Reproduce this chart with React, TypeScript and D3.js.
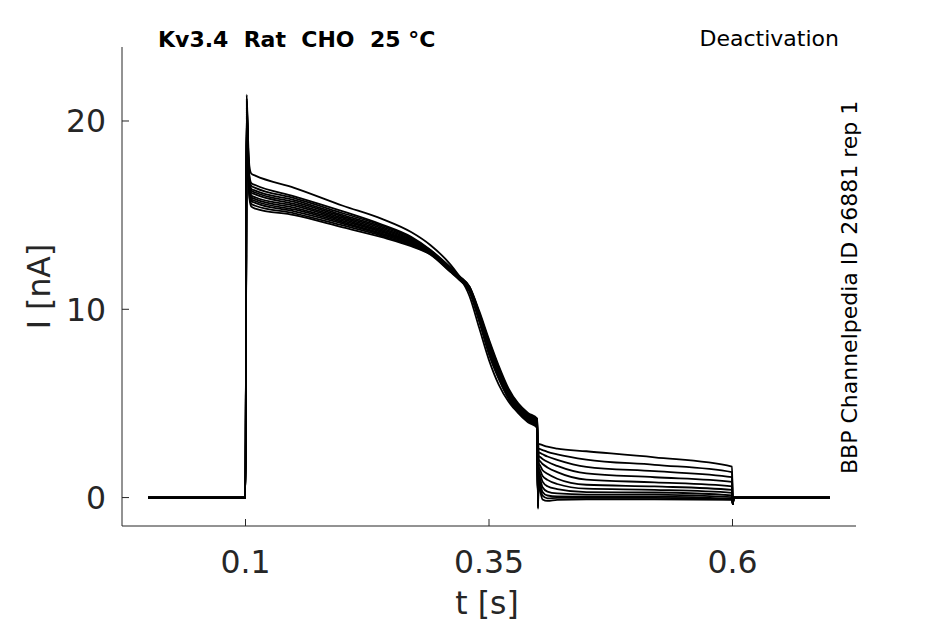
import React from "react";
import * as d3 from "d3";

// ---- data ----
const PRE_T = [0];
const PRE_I = [0];

const ACT_T = [0.1, 0.1012, 0.1025, 0.104, 0.106, 0.11, 0.15, 0.2, 0.24, 0.27, 0.29, 0.31, 0.32, 0.33, 0.34, 0.35, 0.36, 0.37, 0.38, 0.39, 0.3995];

const ACT_0 = [0, 21.4, 19.2, 17.6, 17.2, 17.1, 16.45, 15.5, 14.8, 14.1, 13.4, 12.4, 11.7, 10.7, 9.0, 7.3, 6.0, 5.1, 4.5, 4.1, 3.8];
const ACT_1 = [0, 21.2, 18.9, 17.1, 16.7, 16.6, 16.0, 15.2, 14.5, 13.85, 13.15, 12.25, 11.75, 11.2, 9.9, 8.4, 7.0, 5.8, 5.0, 4.5, 4.2];
const ACT_2 = [0, 21.1, 18.7, 16.95, 16.55, 16.45, 15.9, 15.1, 14.45, 13.8, 13.12, 12.22, 11.72, 11.2, 9.8, 8.3, 6.9, 5.7, 4.95, 4.45, 4.15];
const ACT_3 = [0, 21.0, 18.6, 16.85, 16.4, 16.3, 15.8, 15.0, 14.38, 13.75, 13.1, 12.2, 11.7, 11.15, 9.8, 8.2, 6.85, 5.65, 4.9, 4.4, 4.1];
const ACT_4 = [0, 20.9, 18.5, 16.75, 16.3, 16.2, 15.7, 14.92, 14.3, 13.7, 13.07, 12.17, 11.68, 11.1, 9.7, 8.1, 6.75, 5.6, 4.85, 4.35, 4.05];
const ACT_5 = [0, 20.8, 18.4, 16.65, 16.2, 16.1, 15.6, 14.85, 14.23, 13.65, 13.05, 12.15, 11.66, 11.1, 9.65, 8.05, 6.7, 5.55, 4.8, 4.3, 4.0];
const ACT_6 = [0, 20.7, 18.3, 16.5, 16.05, 15.95, 15.5, 14.77, 14.16, 13.6, 13.02, 12.12, 11.64, 11.05, 9.6, 8.0, 6.6, 5.5, 4.75, 4.25, 3.95];
const ACT_7 = [0, 20.6, 18.2, 16.4, 15.95, 15.85, 15.4, 14.7, 14.1, 13.55, 13.0, 12.1, 11.62, 11.05, 9.55, 7.9, 6.55, 5.45, 4.7, 4.2, 3.9];
const ACT_8 = [0, 20.5, 18.1, 16.3, 15.85, 15.75, 15.3, 14.62, 14.03, 13.5, 12.97, 12.07, 11.6, 11.0, 9.5, 7.85, 6.5, 5.4, 4.65, 4.15, 3.85];
const ACT_9 = [0, 20.4, 18.0, 16.2, 15.75, 15.65, 15.2, 14.55, 13.97, 13.45, 12.95, 12.05, 11.58, 11.0, 9.45, 7.8, 6.45, 5.35, 4.6, 4.1, 3.8];
const ACT_10 = [0, 20.3, 17.9, 16.05, 15.6, 15.5, 15.1, 14.45, 13.9, 13.4, 12.92, 12.02, 11.56, 10.95, 9.4, 7.7, 6.35, 5.3, 4.55, 4.05, 3.75];
const ACT_11 = [0, 20.2, 17.8, 15.9, 15.45, 15.35, 15.0, 14.35, 13.83, 13.35, 12.9, 12.0, 11.54, 10.95, 9.35, 7.6, 6.3, 5.25, 4.5, 4.0, 3.7];

const DIP_T = 0.4003;
const DIP_I = [-0.3, -0.3, -0.4, -0.3, -0.4, -0.3, -0.4, -0.4, -0.5, -0.4, -0.5, -0.6];

const TAIL_T = [0.4008, 0.405, 0.41, 0.42, 0.45, 0.52, 0.5995];
const TAIL_0 = [2.85, 2.78, 2.7, 2.6, 2.46, 2.14, 1.65];
const TAIL_1 = [2.6, 2.52, 2.43, 2.3, 2.02, 1.74, 1.35];
const TAIL_2 = [2.4, 2.3, 2.18, 2.0, 1.63, 1.4, 1.08];
const TAIL_3 = [2.2, 2.05, 1.9, 1.68, 1.28, 1.08, 0.83];
const TAIL_4 = [2.0, 1.78, 1.6, 1.35, 0.95, 0.81, 0.6];
const TAIL_5 = [1.8, 1.45, 1.26, 1.0, 0.68, 0.59, 0.41];
const TAIL_6 = [1.6, 1.15, 0.94, 0.72, 0.47, 0.41, 0.25];
const TAIL_7 = [1.4, 0.85, 0.6, 0.45, 0.29, 0.27, 0.12];
const TAIL_8 = [1.2, 0.55, 0.32, 0.22, 0.16, 0.16, 0.02];
const TAIL_9 = [1.0, 0.3, 0.11, 0.06, 0.05, 0.05, -0.07];
const TAIL_10 = [0.8, 0.1, -0.04, -0.02, -0.02, -0.02, -0.1];
const TAIL_11 = [0.6, -0.1, -0.18, -0.12, -0.09, -0.09, -0.12];

const POST_T = [0.6003, 0.6012, 0.7];
const POST_I = [-0.35, 0, 0];

const ACT = [ACT_0, ACT_1, ACT_2, ACT_3, ACT_4, ACT_5, ACT_6, ACT_7, ACT_8, ACT_9, ACT_10, ACT_11];
const TAIL = [TAIL_0, TAIL_1, TAIL_2, TAIL_3, TAIL_4, TAIL_5, TAIL_6, TAIL_7, TAIL_8, TAIL_9, TAIL_10, TAIL_11];

const X_TICKS = [0.1, 0.35, 0.6];
const X_TICK_LABELS = ["0.1", "0.35", "0.6"];
const Y_TICKS = [0, 10, 20];
const Y_TICK_LABELS = ["0", "10", "20"];

const TITLE = "Kv3.4  Rat  CHO  25 °C";
const PROTOCOL = "Deactivation";
const SOURCE = "BBP Channelpedia ID 26881 rep 1";
const X_LABEL = "t [s]";
const Y_LABEL = "I [nA]";

// ---- layout ----
const W = 945;
const H = 624;
const PLOT_L = 122;
const PLOT_R = 856;
const PLOT_T = 47;
const PLOT_B = 526;
const AXIS_COLOR = "#262626";
const FONT = "'DejaVu Sans', sans-serif";
const TICK_FS = 31.5;
const SMALL_FS = 22;

export default function App() {
  const x = d3.scaleLinear().domain([-0.0268, 0.7268]).range([PLOT_L, PLOT_R]);
  const y = d3.scaleLinear().domain([-1.51, 23.93]).range([PLOT_B, PLOT_T]);

  const traces = ACT.map((act, k) => {
    const pts: [number, number][] = [];
    PRE_T.forEach((t, i) => pts.push([t, PRE_I[i]]));
    ACT_T.forEach((t, i) => pts.push([t, act[i]]));
    pts.push([DIP_T, DIP_I[k]]);
    TAIL_T.forEach((t, i) => pts.push([t, TAIL[k][i]]));
    POST_T.forEach((t, i) => pts.push([t, POST_I[i]]));
    return pts;
  });

  const line = d3
    .line<[number, number]>()
    .x((d) => x(d[0]))
    .y((d) => y(d[1]))
    .curve(d3.curveMonotoneX);

  const pre = { whiteSpace: "pre" as const };

  return (
    <svg
      width={W}
      height={H}
      style={{ position: "absolute", left: 0, top: 0, background: "#fff" }}
    >
      <rect x={0} y={0} width={W} height={H} fill="#fff" />
      {traces.map((pts, k) => (
        <path key={k} d={line(pts) || ""} fill="none" stroke="#000" strokeWidth={1.8} strokeLinejoin="round" />
      ))}
      {/* axes */}
      <line x1={PLOT_L} x2={PLOT_L} y1={PLOT_T} y2={PLOT_B} stroke={AXIS_COLOR} strokeWidth={1} />
      <line x1={PLOT_L} x2={PLOT_R} y1={PLOT_B} y2={PLOT_B} stroke={AXIS_COLOR} strokeWidth={1} />
      {X_TICKS.map((t, i) => (
        <g key={"xt" + i}>
          <line x1={x(t)} x2={x(t)} y1={PLOT_B} y2={PLOT_B - 7} stroke={AXIS_COLOR} strokeWidth={1} />
          <text x={x(t)} y={573} textAnchor="middle" fontFamily={FONT} fontSize={TICK_FS} fill={AXIS_COLOR}>
            {X_TICK_LABELS[i]}
          </text>
        </g>
      ))}
      {Y_TICKS.map((v, i) => (
        <g key={"yt" + i}>
          <line x1={PLOT_L} x2={PLOT_L + 7} y1={y(v)} y2={y(v)} stroke={AXIS_COLOR} strokeWidth={1} />
          <text x={106} y={y(v)} dy="0.36em" textAnchor="end" fontFamily={FONT} fontSize={TICK_FS} fill={AXIS_COLOR}>
            {Y_TICK_LABELS[i]}
          </text>
        </g>
      ))}
      <text x={487} y={614} textAnchor="middle" fontFamily={FONT} fontSize={TICK_FS} fill={AXIS_COLOR}>
        {X_LABEL}
      </text>
      <text
        transform={`translate(50,286.5) rotate(-90)`}
        textAnchor="middle"
        fontFamily={FONT}
        fontSize={TICK_FS}
        fill={AXIS_COLOR}
      >
        {Y_LABEL}
      </text>
      <text x={158} y={47} fontFamily={FONT} fontWeight="bold" fontSize={SMALL_FS} fill="#000" style={pre}>
        {TITLE}
      </text>
      <text x={839} y={46} textAnchor="end" fontFamily={FONT} fontSize={SMALL_FS} fill="#000">
        {PROTOCOL}
      </text>
      <text
        transform={`translate(857,474) rotate(-90)`}
        fontFamily={FONT}
        fontSize={SMALL_FS}
        fill="#000"
      >
        {SOURCE}
      </text>
    </svg>
  );
}
